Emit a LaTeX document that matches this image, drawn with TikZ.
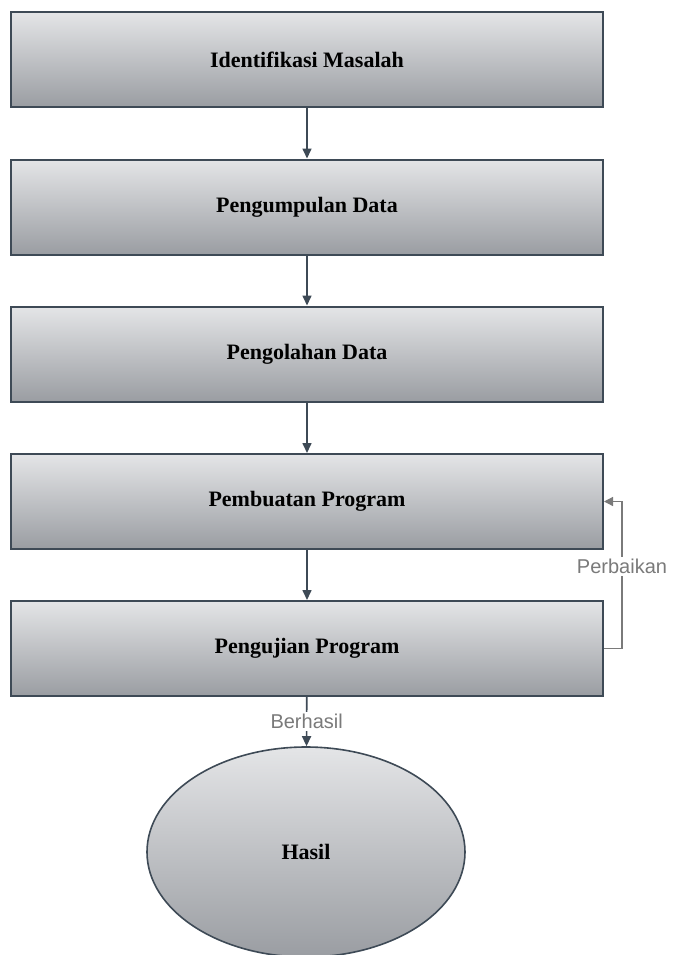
\documentclass[tikz,border=0pt]{standalone}
\usepackage{fontspec}
\setmainfont{Liberation Serif}
\newfontfamily\notefont{Liberation Sans}
\usetikzlibrary{arrows.meta,shapes.geometric}
\definecolor{inkslate}{HTML}{3E4A56}
\definecolor{shadetop}{HTML}{E4E5E7}
\definecolor{shadebot}{HTML}{9A9DA2}
\definecolor{inkgrey}{HTML}{7A7A7A}
\tikzset{stage/.style={rectangle,draw=inkslate,line width=1pt,top color=shadetop,bottom color=shadebot,minimum width=296pt,minimum height=47.5pt,font=\fontsize{11}{13}\selectfont\bfseries},outcome/.style={ellipse,draw=inkslate,line width=.8pt,top color=shadetop,bottom color=shadebot,minimum width=159pt,minimum height=105pt,inner sep=0pt,font=\fontsize{11}{13}\selectfont\bfseries},flow/.style={-{Triangle[width=4.5pt,length=5pt]},draw=inkslate,line width=.8pt},loopback/.style={-{Triangle[width=4.5pt,length=4.5pt]},draw=inkgrey,line width=.6pt},note/.style={fill=white,inner sep=1pt,text=inkgrey,font=\notefont\fontsize{10}{12}\selectfont}}

\begin{document}
\begin{tikzpicture}[x=.5pt,y=-.5pt]
\useasboundingbox (0,0) rectangle (673,955);
\node[stage] (masalah) at (307,59.5) {Identifikasi Masalah};
\node[stage] (data) at (307,207) {Pengumpulan Data};
\node[stage] (olah) at (307,354) {Pengolahan Data};
\node[stage] (program) at (307,501.5) {Pembuatan Program};
\node[stage] (uji) at (307,648.5) {Pengujian Program};
\node[outcome] (hasil) at (306,852) {Hasil};
\draw[flow] (masalah)--(data);
\draw[flow] (data)--(olah);
\draw[flow] (olah)--(program);
\draw[flow] (program)--(uji);
\draw[flow] (uji)--node[note]{Berhasil} (hasil);
\coordinate (loop) at (622,0);
\draw[loopback] (uji.east)--(uji.east -| loop)--node[note,pos=.56]{Perbaikan} (program.east -| loop)--(program.east);
\end{tikzpicture}
\end{document}
